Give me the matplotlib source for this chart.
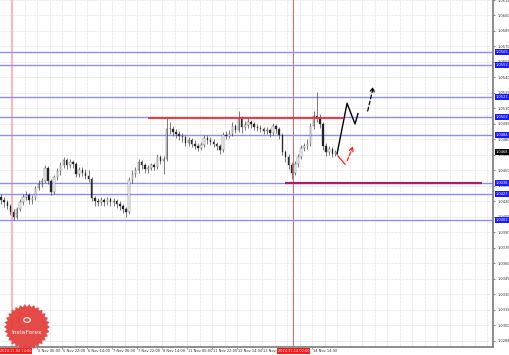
import numpy as np
import matplotlib
matplotlib.use("Agg")
import matplotlib.pyplot as plt
from matplotlib.patches import Polygon, Circle
from matplotlib.transforms import blended_transform_factory

# H2 candles, x = bar hour index (MT4 style, weekend skipped)
bar_hours = list(range(1, 216, 2))
first_open = 1.0424
closes = [1.0421, 1.0419, 1.0416, 1.0410, 1.0405, 1.0413, 1.0419, 1.0424, 1.0426, 1.0421,
          1.0423, 1.0433, 1.0437, 1.0440, 1.0452, 1.0440, 1.0429, 1.0444, 1.0449, 1.0455,
          1.0460, 1.0455, 1.0458, 1.0456, 1.0447, 1.0450, 1.0448, 1.0445, 1.0442, 1.0423,
          1.0420, 1.0419, 1.0421, 1.0419, 1.0422, 1.0419, 1.0420, 1.0418, 1.0416, 1.0413,
          1.0410, 1.0441, 1.0447, 1.0450, 1.0458, 1.0455, 1.0451, 1.0452, 1.0455, 1.0453,
          1.0463, 1.0459, 1.0461, 1.0490, 1.0490, 1.0487, 1.0485, 1.0483, 1.0482, 1.0477,
          1.0479, 1.0476, 1.0474, 1.0472, 1.0475, 1.0481, 1.0479, 1.0478, 1.0476, 1.0474,
          1.0470, 1.0484, 1.0483, 1.0485, 1.0493, 1.0489, 1.0500, 1.0492, 1.0494, 1.0497,
          1.0495, 1.0492, 1.0491, 1.0490, 1.0488, 1.0489, 1.0486, 1.0493, 1.0490, 1.0484,
          1.0468, 1.0463, 1.0455, 1.0448, 1.0456, 1.0463, 1.0472, 1.0474, 1.0476, 1.0493,
          1.0503, 1.0501, 1.0495, 1.0474, 1.0468, 1.0471, 1.0466, 1.0468]
highs = [1.0427, 1.0424, 1.0421, 1.0418, 1.0413, 1.0415, 1.0422, 1.0427, 1.0430, 1.0428,
         1.0426, 1.0435, 1.0441, 1.0443, 1.0455, 1.0454, 1.0442, 1.0446, 1.0452, 1.0458,
         1.0463, 1.0462, 1.0461, 1.0460, 1.0458, 1.0453, 1.0453, 1.0451, 1.0450, 1.0444,
         1.0425, 1.0423, 1.0424, 1.0423, 1.0424, 1.0424, 1.0423, 1.0422, 1.0420, 1.0418,
         1.0415, 1.0444, 1.0450, 1.0453, 1.0461, 1.0460, 1.0457, 1.0455, 1.0457, 1.0457,
         1.0466, 1.0465, 1.0464, 1.0501, 1.0497, 1.0493, 1.0490, 1.0488, 1.0486, 1.0484,
         1.0482, 1.0481, 1.0479, 1.0477, 1.0478, 1.0484, 1.0484, 1.0482, 1.0480, 1.0478,
         1.0476, 1.0487, 1.0488, 1.0489, 1.0497, 1.0495, 1.0508, 1.0503, 1.0498, 1.0501,
         1.0499, 1.0497, 1.0495, 1.0494, 1.0492, 1.0492, 1.0491, 1.0496, 1.0495, 1.0492,
         1.0486, 1.0470, 1.0466, 1.0458, 1.0459, 1.0466, 1.0475, 1.0477, 1.0480, 1.0496,
         1.0508, 1.0526, 1.0505, 1.0497, 1.0477, 1.0474, 1.0473, 1.0470]
lows = [1.0418, 1.0415, 1.0413, 1.0407, 1.0402, 1.0403, 1.0411, 1.0417, 1.0421, 1.0418,
        1.0418, 1.0421, 1.0431, 1.0434, 1.0438, 1.0437, 1.0426, 1.0427, 1.0441, 1.0446,
        1.0452, 1.0451, 1.0452, 1.0452, 1.0444, 1.0444, 1.0445, 1.0442, 1.0439, 1.0420,
        1.0416, 1.0416, 1.0417, 1.0416, 1.0417, 1.0416, 1.0416, 1.0414, 1.0412, 1.0409,
        1.0405, 1.0408, 1.0438, 1.0444, 1.0448, 1.0451, 1.0448, 1.0448, 1.0450, 1.0450,
        1.0451, 1.0456, 1.0447, 1.0459, 1.0485, 1.0483, 1.0481, 1.0479, 1.0478, 1.0474,
        1.0474, 1.0473, 1.0471, 1.0469, 1.0470, 1.0473, 1.0476, 1.0475, 1.0473, 1.0470,
        1.0466, 1.0468, 1.0480, 1.0481, 1.0483, 1.0486, 1.0487, 1.0486, 1.0489, 1.0491,
        1.0491, 1.0489, 1.0488, 1.0487, 1.0485, 1.0485, 1.0482, 1.0484, 1.0486, 1.0480,
        1.0465, 1.0458, 1.0451, 1.0442, 1.0446, 1.0453, 1.0461, 1.0469, 1.0471, 1.0474,
        1.0490, 1.0497, 1.0491, 1.0470, 1.0464, 1.0465, 1.0463, 1.0464]

# levels
blue_levels = [1.0565, 1.0552, 1.0521, 1.0502, 1.0484, 1.0438, 1.0427, 1.0402]
blue_labels = ["1.0565", "1.0552", "1.0521", "1.0502", "1.0484", "1.0438", "1.0427", "1.0402"]
red_level = 1.0501
red_span = [95, 220]
purple_level = 1.0438
purple_span = [183, 309]
last_price = 1.0468

# forecast paths (hour index, price)
black_path_x = [216, 222.4, 227.5, 229.4]
black_path_y = [1.0466, 1.0515, 1.0495, 1.0505]
black_dash_x = [235.2, 239.7]
black_dash_y = [1.0505, 1.0534]
red_path_x = [216.6, 221.1]
red_path_y = [1.0464, 1.0456]
red_dash_x = [221.8, 227.0]
red_dash_y = [1.0457, 1.0476]

y_ticks = [1.0285, 1.0300, 1.0315, 1.0330, 1.0345, 1.0360, 1.0375, 1.0390, 1.0405,
           1.0420, 1.0435, 1.0450, 1.0465, 1.0480, 1.0495, 1.0510, 1.0525, 1.0540,
           1.0555, 1.0570, 1.0585, 1.0600, 1.0615]
date_ticks = [24, 40, 56, 72, 88, 104, 120, 136, 152, 168, 200]
date_labels = ["5 Nov 06:00", "5 Nov 22:00", "6 Nov 14:00", "7 Nov 06:00", "7 Nov 22:00",
               "8 Nov 14:00", "11 Nov 06:00", "11 Nov 22:00", "12 Nov 14:00",
               "13 Nov 06:00", "14 Nov 14:00"]
sep_hours = [8, 188]
sep_labels = ["2024.11.04 14:00", "2024.11.14 02:00"]

W, H = 510, 355
fig = plt.figure(figsize=(W / 100, H / 100), dpi=100)
fig.patch.set_facecolor("white")
ax = fig.add_axes([0, 8 / H, 493 / W, 347 / H])
ax.set_xlim(0.3, 315.8)
ax.set_ylim(1.02791, 1.06140)

# grid
for gx in np.arange(8, 316, 8):
    ax.axvline(gx, color="#d4d4d4", lw=0.5, ls=(0, (1, 1)), zorder=0)
for gy in y_ticks:
    ax.axhline(gy, color="#d4d4d4", lw=0.5, ls=(0, (1, 1)), zorder=0)

# period separators
ax.axvline(sep_hours[0], color="#ffb4b4", lw=1.4, zorder=1)
ax.axvline(sep_hours[1], color="#e86060", lw=0.7, zorder=1)

# horizontal levels
for lv in blue_levels:
    ax.axhline(lv, color="#8c8cff", lw=1.0, zorder=2)
ax.hlines(red_level, red_span[0], red_span[1], color="#ff2a2a", lw=1.3, zorder=4)
ax.hlines(purple_level, purple_span[0], purple_span[1], color="#a8205e", lw=1.6, zorder=4)

# candles
opens = [first_open] + closes[:-1]
ax.vlines(bar_hours, lows, highs, color="#333333", lw=0.45, zorder=3)
for x, o, c in zip(bar_hours, opens, closes):
    bull = c >= o
    ax.bar(x, max(abs(c - o), 0.00004), bottom=min(o, c), width=0.95,
           color="white" if bull else "#222222", edgecolor="#333333", linewidth=0.25, zorder=3)

# forecast arrows
ax.plot(black_path_x, black_path_y, color="black", lw=1.0, zorder=5)
ax.annotate("", xy=(black_dash_x[1], black_dash_y[1]), xytext=(black_dash_x[0], black_dash_y[0]),
            arrowprops=dict(arrowstyle="->", color="black", lw=0.9, ls=(0, (3, 2)),
                            mutation_scale=7), zorder=5)
ax.plot(red_path_x, red_path_y, color="#ff2020", lw=0.9, zorder=5)
ax.annotate("", xy=(red_dash_x[1], red_dash_y[1]), xytext=(red_dash_x[0], red_dash_y[0]),
            arrowprops=dict(arrowstyle="->", color="#ff2020", lw=0.9, ls=(0, (3, 1.5)),
                            mutation_scale=7), zorder=5)

# axes styling
for s in ["top", "left"]:
    ax.spines[s].set_visible(False)
ax.spines["right"].set_color("#7a7a7a")
ax.spines["bottom"].set_color("#7a7a7a")
ax.spines["right"].set_linewidth(1.2)
ax.spines["bottom"].set_linewidth(1.2)
ax.yaxis.tick_right()
ax.set_yticks(y_ticks)
ax.set_yticklabels([f"{v:.4f}" for v in y_ticks])
ax.tick_params(axis="y", labelsize=2.6, length=1.5, width=0.4, pad=1.5, colors="#333333")
ax.set_xticks(date_ticks)
ax.set_xticklabels([])
ax.tick_params(axis="x", length=1.5, width=0.4, colors="#555555")

trans_x = blended_transform_factory(ax.transData, ax.transAxes)
for x, lab in zip(date_ticks, date_labels):
    ax.text(x + 0.8, -0.012, lab, transform=trans_x, fontsize=2.6, color="#333333",
            ha="left", va="center", clip_on=False)
ax.text(0.3, -0.012, sep_labels[0], transform=trans_x, fontsize=2.5, color="white", ha="left",
        va="center", clip_on=False, zorder=6,
        bbox=dict(boxstyle="square,pad=0.25", fc="#ff1a1a", ec="none"))
ax.text(sep_hours[1], -0.012, sep_labels[1], transform=trans_x, fontsize=2.5, color="white",
        ha="center", va="center", clip_on=False, zorder=6,
        bbox=dict(boxstyle="square,pad=0.25", fc="#ff1a1a", ec="none"))

trans_y = blended_transform_factory(ax.transAxes, ax.transData)
for lv, lab in zip(blue_levels, blue_labels):
    ax.text(1.006, lv, lab, transform=trans_y, fontsize=2.6, color="white", ha="left",
            va="center", clip_on=False, zorder=6,
            bbox=dict(boxstyle="square,pad=0.3", fc="#1a1aff", ec="none"))
ax.text(1.006, last_price, f"{last_price:.4f}", transform=trans_y, fontsize=2.6, color="white",
        ha="left", va="center", clip_on=False, zorder=6,
        bbox=dict(boxstyle="square,pad=0.3", fc="black", ec="none"))

# InstaForex badge
cx, cy, r = 27 / W, 1 - 327 / H, 23
ang = np.linspace(0, 2 * np.pi, 61)[:-1]
rad = np.where(np.arange(60) % 2 == 0, r, r * 0.88)
pts = np.column_stack([cx + rad * np.cos(ang) / W, cy + rad * np.sin(ang) / H])
fig.add_artist(Polygon(pts, closed=True, transform=fig.transFigure, fc="#e4403c",
                       ec="none", alpha=0.95, zorder=10))
fig.add_artist(Circle((cx, 1 - 320 / H), 0.0065, transform=fig.transFigure, fc="none",
                      ec="white", lw=0.8, zorder=11))
fig.text(cx, 1 - 332 / H, "InstaForex", color="white", fontsize=4.2, ha="center",
         va="center", zorder=11)

fig.savefig("out.png", dpi=100, facecolor="white")
